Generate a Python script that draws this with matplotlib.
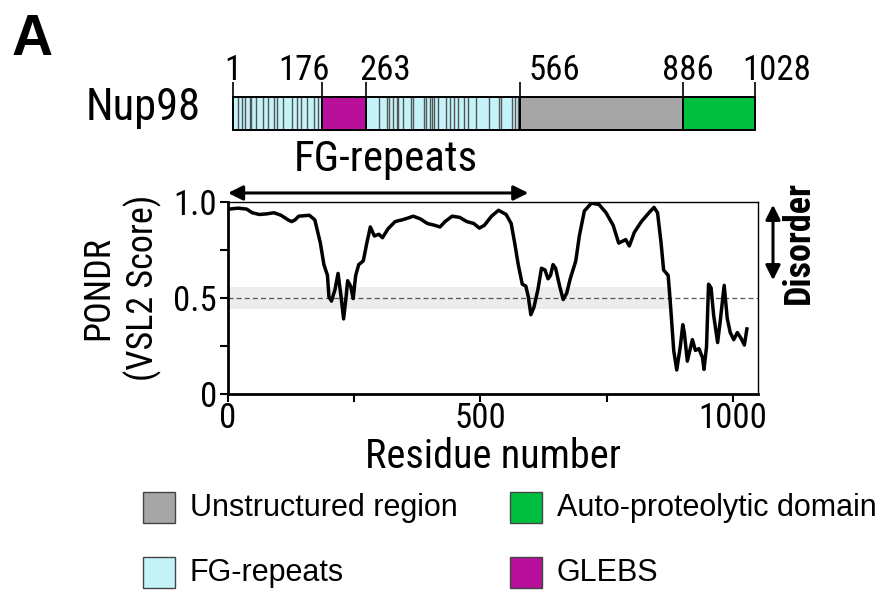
import matplotlib
matplotlib.use("Agg")
import matplotlib.pyplot as plt
from matplotlib import font_manager
from matplotlib.patches import Rectangle, FancyArrowPatch
import numpy as np

# ---------------------------------------
# DATA
# ---------------------------------------
residues = [2, 20, 37, 48, 62, 76, 91, 105, 119, 126, 133, 140, 161, 172, 183, 190, 197, 200,
            205, 212, 218, 224, 229, 234, 237, 243, 248, 253, 259, 268, 275, 282, 290, 299,
            306, 317, 331, 345, 356, 367, 381, 395, 409, 420, 430, 444, 459, 473, 487, 498,
            508, 522, 536, 551, 561, 568, 575, 583, 590, 595, 600, 606, 614, 621, 628, 634,
            639, 644, 649, 657, 664, 671, 678, 689, 696, 706, 720, 735, 749, 763, 774, 781,
            788, 795, 805, 819, 834, 844, 851, 858, 863, 872, 877, 883, 889, 896, 901, 904,
            910, 915, 920, 926, 933, 940, 943, 948, 952, 957, 962, 970, 975, 983, 989, 995,
            1002, 1009, 1016, 1023, 1028]
vsl2 = [0.963, 0.968, 0.963, 0.944, 0.935, 0.938, 0.944, 0.931, 0.907, 0.898, 0.907, 0.926,
        0.931, 0.907, 0.786, 0.674, 0.618, 0.506, 0.484, 0.544, 0.628, 0.506, 0.391, 0.506,
        0.590, 0.562, 0.497, 0.618, 0.674, 0.693, 0.786, 0.870, 0.823, 0.832, 0.814, 0.860,
        0.898, 0.907, 0.916, 0.926, 0.912, 0.888, 0.879, 0.870, 0.898, 0.926, 0.920, 0.898,
        0.888, 0.864, 0.879, 0.926, 0.957, 0.935, 0.888, 0.786, 0.674, 0.572, 0.562, 0.506,
        0.413, 0.451, 0.544, 0.655, 0.646, 0.600, 0.618, 0.674, 0.655, 0.562, 0.492, 0.525,
        0.600, 0.693, 0.823, 0.953, 0.994, 0.987, 0.944, 0.879, 0.786, 0.795, 0.804, 0.771,
        0.842, 0.898, 0.944, 0.972, 0.944, 0.786, 0.646, 0.618, 0.451, 0.227, 0.125, 0.246,
        0.361, 0.320, 0.171, 0.227, 0.283, 0.227, 0.236, 0.190, 0.128, 0.246, 0.572, 0.553,
        0.413, 0.268, 0.376, 0.566, 0.395, 0.320, 0.283, 0.320, 0.292, 0.255, 0.339]

# domain map of Nup98
domain_starts = [1, 176, 263, 566, 886]
domain_ends = [176, 263, 566, 886, 1028]
domain_kinds = ["FG", "GLEBS", "FG", "Unstructured", "Auto"]
boundary_labels = [1, 176, 263, 566, 886, 1028]
fg_motifs = [10, 18, 25, 34, 37, 46, 61, 70, 82, 87, 99, 117, 126, 134, 146, 160, 169,
             289, 304, 307, 316, 323, 325, 335, 351, 356, 376, 381, 388, 393, 397, 404,
             420, 427, 436, 444, 455, 464, 480, 504, 524, 529, 550, 555, 561]

fg_arrow_span = [0, 595]
band_span = [0, 880]
band_limits = [0.445, 0.557]
threshold = 0.5

legend_names = ["Unstructured region", "Auto-proteolytic domain", "FG-repeats", "GLEBS"]
legend_kinds = ["Unstructured", "Auto", "FG", "GLEBS"]

colors = {"FG": "#c4f4fa", "GLEBS": "#b8109a", "Unstructured": "#a6a6a6", "Auto": "#00be3f"}

# pick a narrow sans face (the figure uses a condensed Helvetica look)
installed = {f.name for f in font_manager.fontManager.ttflist}
narrow_face = next((n for n in ["Liberation Sans Narrow", "Arial Narrow", "Roboto Condensed",
                                "Archivo Narrow", "PT Sans Narrow", "Liberation Sans"]
                    if n in installed), "DejaVu Sans")
NARROW = [narrow_face, "DejaVu Sans"]
REG = ["Liberation Sans", "DejaVu Sans"]

W, H = 895, 591
fig = plt.figure(figsize=(W / 100, H / 100), dpi=100)


def fx(px):
    return px / W


def fy(py):
    return 1 - py / H


# ---------------------------------------
# PONDR plot
# ---------------------------------------
ax = fig.add_axes([fx(228), fy(394), fx(758) - fx(228), fy(202) - fy(394)])
ax.fill_between(band_span, band_limits[0], band_limits[1], color="#ececec", lw=0, zorder=0)
ax.axhline(threshold, color="#555555", lw=0.9, ls=(0, (4, 2.5)), zorder=1)
ax.plot(residues, vsl2, color="black", lw=2.5, zorder=3, solid_joinstyle="round")
ax.set_xlim(0, 1050)
ax.set_ylim(0, 1.0)
ax.set_xticks([0, 250, 500, 750, 1000])
ax.set_xticklabels(["0", "", "500", "", "1000"])
ax.set_yticks([0, 0.25, 0.5, 0.75, 1.0])
ax.set_yticklabels(["0", "", "0.5", "", "1.0"])
for lab in ax.get_xticklabels() + ax.get_yticklabels():
    lab.set_family(NARROW)
    lab.set_fontsize(25)
ax.tick_params(axis="x", direction="out", length=6, width=1.5, pad=0)
ax.tick_params(axis="y", direction="out", length=6, width=1.5, pad=2)
for s in ["left", "bottom"]:
    ax.spines[s].set_linewidth(2)
for s in ["top", "right"]:
    ax.spines[s].set_linewidth(1)
ax.set_xlabel("Residue number", family=NARROW, fontsize=29, labelpad=1)

fig.text(fx(121), fy(288), "PONDR\n(VSL2 Score)", family=NARROW, fontsize=26,
         rotation=90, ha="center", va="center", linespacing=1.25)

# FG-repeats arrow above plot
ax.annotate("", xy=(fg_arrow_span[0], 1.047), xytext=(fg_arrow_span[1], 1.047),
            arrowprops=dict(arrowstyle="<|-|>", color="black", lw=2.2,
                            mutation_scale=22, shrinkA=0, shrinkB=0),
            annotation_clip=False)
ax.text(np.mean(fg_arrow_span) + 15, 1.16, "FG-repeats", family=NARROW, fontsize=31,
        ha="center", va="baseline", clip_on=False)

# Disorder arrow
fig.add_artist(FancyArrowPatch(
    (fx(773), fy(202)), (fx(773), fy(283)), transform=fig.transFigure,
    arrowstyle="<|-|>", mutation_scale=22, lw=2.2, color="black"))
fig.text(fx(799), fy(242), "Disorder", family=NARROW, fontsize=26, fontweight="bold",
         rotation=90, ha="center", va="center")

# ---------------------------------------
# Domain bar
# ---------------------------------------
bx = fig.add_axes([fx(233), fy(130), fx(755) - fx(233), fy(97) - fy(130)])
bx.set_xlim(1, 1028)
bx.set_ylim(0, 1)
bx.axis("off")
for st, en, kind in zip(domain_starts, domain_ends, domain_kinds):
    bx.add_patch(Rectangle((st, 0), en - st, 1, facecolor=colors[kind],
                           edgecolor="black", lw=1.3, zorder=1, clip_on=False))
bx.vlines(fg_motifs, 0, 1, color="#555555", lw=1.0, zorder=2)
for st, en, kind in zip(domain_starts, domain_ends, domain_kinds):
    bx.add_patch(Rectangle((st, 0), en - st, 1, facecolor="none",
                           edgecolor="black", lw=1.3, zorder=3, clip_on=False))
bx.vlines(boundary_labels, 1, 1.45, color="black", lw=1.2, clip_on=False)

label_offsets = [0, 8, -7, 34, 5, 22]
label_align = ["center", "right", "left", "center", "center", "center"]
for b, off, al in zip(boundary_labels, label_offsets, label_align):
    bx.annotate(str(b), xy=(b, 1.52), xytext=(off * 0.72, 0), textcoords="offset points",
                ha=al, va="baseline", family=NARROW, fontsize=25, annotation_clip=False)

fig.text(fx(201), fy(120), "Nup98", family=NARROW, fontsize=32, ha="right", va="baseline")

# panel letter
fig.text(fx(12), fy(55), "A", family=REG, fontsize=41, fontweight="bold",
         ha="left", va="baseline")

# ---------------------------------------
# Legend
# ---------------------------------------
sq_x = [143, 510, 143, 510]
sq_y = [492, 492, 557, 557]
for name, kind, x0, y0 in zip(legend_names, legend_kinds, sq_x, sq_y):
    fig.add_artist(Rectangle((fx(x0), fy(y0 + 31)), fx(32), 31 / H, transform=fig.transFigure,
                             facecolor=colors[kind], edgecolor="#444444", lw=1.0))
    fig.text(fx(x0 + 47), fy(y0 + 16), name, family=REG, fontsize=22,
             ha="left", va="center")

fig.savefig("out.png", dpi=100)
